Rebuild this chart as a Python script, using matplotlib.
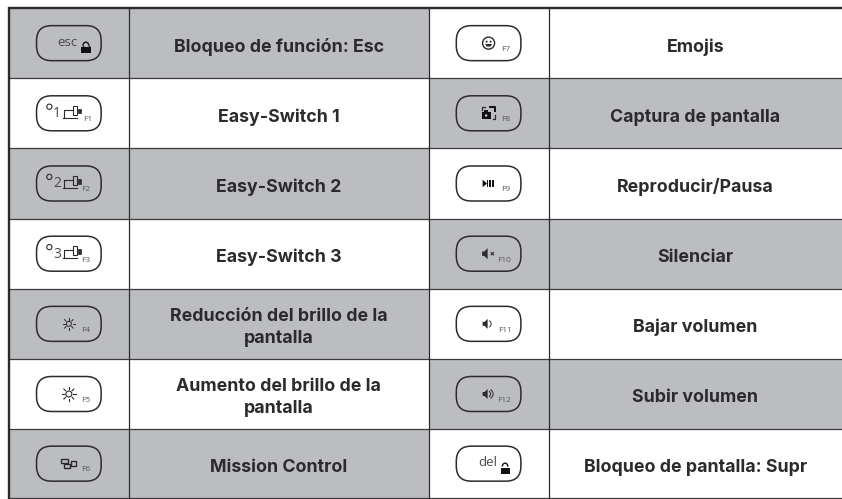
#!/usr/bin/env python
#### keyboard function key table, F-row shortcuts (es)

import numpy as np
import matplotlib
matplotlib.use('Agg')
import matplotlib.pyplot as plt
from matplotlib.patches import FancyBboxPatch, Rectangle, Circle, Polygon, Arc

#### table contents
left_labels = ['Bloqueo de función: Esc', 'Easy-Switch 1', 'Easy-Switch 2', 'Easy-Switch 3',
               'Reducción del brillo de la\npantalla', 'Aumento del brillo de la\npantalla',
               'Mission Control']
right_labels = ['Emojis', 'Captura de pantalla', 'Reproducir/Pausa', 'Silenciar',
                'Bajar volumen', 'Subir volumen', 'Bloqueo de pantalla: Supr']
left_fn = ['', 'F1', 'F2', 'F3', 'F4', 'F5', 'F6']
right_fn = ['F7', 'F8', 'F9', 'F10', 'F11', 'F12', '']
left_icons = ['esc', 'switch1', 'switch2', 'switch3', 'sun_small', 'sun_big', 'windows']
right_icons = ['emoji', 'camera', 'play', 'mute', 'voldown', 'volup', 'del']

row_edges = [8, 78.3, 148.3, 218.7, 288.7, 359, 429, 498.3]
col_edges = [8.7, 129, 428.5, 548.7, 842]

GREY = '#bcbdc0'
DARK = '#2b2a2c'
KEYTXT = '#4a4a4c'

fig = plt.figure(figsize=(8.42, 4.99), dpi=100)
ax = fig.add_axes([0, 0, 1, 1])
ax.set_xlim(0, 842)
ax.set_ylim(499, 0)
ax.axis('off')


def sun(cx, cy, r, r1, r2, lw):
    ax.add_patch(Circle((cx, cy), r, fc='none', ec=DARK, lw=lw))
    for a in np.arange(8) * np.pi / 4:
        ax.plot([cx + r1 * np.cos(a), cx + r2 * np.cos(a)],
                [cy + r1 * np.sin(a), cy + r2 * np.sin(a)], color=DARK, lw=lw)


def switch(cx, cy, num):
    ax.add_patch(Circle((cx - 19.5, cy - 6.6), 2.6, fc='none', ec=DARK, lw=0.8))
    ax.text(cx - 12, cy + 0.3, num, fontsize=10, family='Open Sans',
            color=KEYTXT, ha='center', va='center')
    ax.plot([cx - 6, cx + 8], [cy + 4.5, cy + 4.5], color=DARK, lw=0.8)
    ax.plot([cx - 4.5, cx - 4.5, cx + 3], [cy + 4.5, cy - 3.5, cy - 3.5], color=DARK, lw=0.8)
    ax.add_patch(Rectangle((cx + 4, cy - 7.5), 4, 9, fc='none', ec=DARK, lw=0.8))
    ax.add_patch(Rectangle((cx + 9, cy - 4.5), 3, 4.5, fc=DARK, ec=DARK, lw=0.5))


def speaker(cx, cy, s):
    ax.add_patch(Polygon([(cx, cy - 2 * s), (cx + 2 * s, cy - 2 * s), (cx + 5 * s, cy - 5 * s),
                          (cx + 5 * s, cy + 5 * s), (cx + 2 * s, cy + 2 * s), (cx, cy + 2 * s)],
                         fc=DARK, ec='none'))


def lock(cx, cy, w, h, opened):
    ax.add_patch(Rectangle((cx - w / 2, cy), w, h, fc='#111111', ec='none'))
    ax.add_patch(Arc((cx, cy - 1), w * 0.62, 7, theta1=180, theta2=360, ec='#111111', lw=1.0))
    if not opened:
        ax.plot([cx - w * 0.31, cx - w * 0.31], [cy - 1, cy], color='#111111', lw=1.0)
        ax.plot([cx + w * 0.31, cx + w * 0.31], [cy - 1, cy], color='#111111', lw=1.0)


def draw_icon(name, cx, cy):
    if name == 'esc':
        ax.text(cx - 1, cy - 0.5, 'esc', fontsize=9.5, family='Open Sans',
                color=KEYTXT, ha='center', va='center')
        lock(cx + 17, cy + 3.5, 9.5, 6.5, False)
    elif name.startswith('switch'):
        switch(cx, cy, name[-1])
    elif name == 'sun_small':
        sun(cx, cy, 2.5, 4, 6, 0.7)
    elif name == 'sun_big':
        sun(cx, cy, 3, 4.6, 7, 0.8)
    elif name == 'windows':
        ax.add_patch(Rectangle((cx - 8, cy - 4.5), 7.2, 4, fc='none', ec=DARK, lw=1.0))
        ax.add_patch(Rectangle((cx - 5, cy + 0.8), 6, 4, fc='none', ec=DARK, lw=1.0))
        ax.add_patch(Rectangle((cx + 1.8, cy - 3), 5.2, 5.6, fc='none', ec=DARK, lw=1.0))
    elif name == 'emoji':
        ax.add_patch(Circle((cx, cy), 6, fc='none', ec=DARK, lw=1.0))
        ax.add_patch(Circle((cx - 2, cy - 1.5), 1, fc=DARK, ec='none'))
        ax.add_patch(Circle((cx + 2, cy - 1.5), 1, fc=DARK, ec='none'))
        ax.add_patch(Polygon([(cx - 3.5, cy + 0.8), (cx + 3.5, cy + 0.8), (cx + 2, cy + 3.4),
                              (cx - 2, cy + 3.4)], fc=DARK, ec='none'))
    elif name == 'camera':
        ax.add_patch(Rectangle((cx - 7, cy - 1), 9, 6.5, fc='#111111', ec='none'))
        ax.add_patch(Rectangle((cx - 4.5, cy - 3), 4, 2.5, fc='#111111', ec='none'))
        ax.add_patch(Circle((cx - 2.5, cy + 2.2), 1.3, fc=GREY, ec='none'))
        ax.plot([cx - 7, cx - 7, cx - 4], [cy - 3, cy - 6, cy - 6], color=DARK, lw=0.9)
        ax.plot([cx + 1, cx + 6.5, cx + 6.5], [cy - 6, cy - 6, cy - 2], color='#111111', lw=1.4)
        ax.plot([cx + 6.5, cx + 6.5, cx + 4], [cy + 1.5, cy + 5.5, cy + 5.5], color=DARK, lw=0.9)
    elif name == 'play':
        ax.add_patch(Polygon([(cx - 6, cy - 3.7), (cx - 1.5, cy), (cx - 6, cy + 3.7)], fc='#111111', ec='none'))
        ax.add_patch(Rectangle((cx - 1.5, cy - 3.7), 1, 7.4, fc='#111111', ec='none'))
        ax.add_patch(Rectangle((cx + 0.6, cy - 3.7), 1.7, 7.4, fc='#111111', ec='none'))
        ax.add_patch(Rectangle((cx + 3.4, cy - 3.7), 1.7, 7.4, fc='#111111', ec='none'))
    elif name == 'mute':
        speaker(cx - 6.5, cy, 1.1)
        ax.plot([cx + 2.5, cx + 5], [cy - 1.2, cy + 1.2], color=DARK, lw=0.8)
        ax.plot([cx + 2.5, cx + 5], [cy + 1.2, cy - 1.2], color=DARK, lw=0.8)
    elif name == 'voldown':
        speaker(cx - 6, cy, 1.0)
        ax.add_patch(Arc((cx - 2, cy), 9, 8, theta1=-50, theta2=50, ec=DARK, lw=0.7))
    elif name == 'volup':
        speaker(cx - 6, cy, 1.0)
        ax.add_patch(Arc((cx - 2, cy), 8, 7, theta1=-50, theta2=50, ec=DARK, lw=0.7))
        ax.add_patch(Arc((cx - 2, cy), 13, 11, theta1=-50, theta2=50, ec=DARK, lw=0.7))
    elif name == 'del':
        ax.text(cx - 1, cy - 1.5, 'del', fontsize=9.5, family='Open Sans',
                color=KEYTXT, ha='center', va='center')
        lock(cx + 16.5, cy + 4, 9, 6.5, True)


def draw_column(x0, x1, x2, labels, fn, icons, shade_start):
    for i in range(len(labels)):
        y0, y1 = row_edges[i], row_edges[i + 1]
        cy = (y0 + y1) / 2
        if (i + shade_start) % 2 == 0:
            ax.add_patch(Rectangle((x0, y0), x2 - x0, y1 - y0, fc=GREY, ec='none', zorder=0))
        cx = (x0 + x1) / 2
        ax.add_patch(FancyBboxPatch((cx - 32.3 + 15, cy - 17.5 + 15), 64.6 - 30, 35 - 30,
                                    boxstyle='round,pad=15,rounding_size=15',
                                    fc='none', ec=DARK, lw=1.1))
        draw_icon(icons[i], cx, cy)
        if fn[i]:
            dx = {'F1': 19, 'F10': 15, 'F11': 16, 'F12': 15}.get(fn[i], 17)
            ax.text(cx + dx, cy + 6.3, fn[i], fontsize=6, family='Open Sans',
                    color='#58585a', ha='center', va='center')
        ax.text((x1 + x2) / 2, cy + 3.7, labels[i], fontsize=12.8, family='Inter', fontweight='bold',
                color=DARK, ha='center', va='center', linespacing=1.38)


draw_column(col_edges[0], col_edges[1], col_edges[2], left_labels, left_fn, left_icons, 0)
draw_column(col_edges[2], col_edges[3], col_edges[4], right_labels, right_fn, right_icons, 1)

#### grid lines
for y in row_edges[1:]:
    ax.plot([col_edges[0], 842], [y, y], color='#3a3a3c', lw=0.9, zorder=3, solid_capstyle='butt')
ax.plot([7.5, 842], [8, 8], color=DARK, lw=1.7, zorder=3, solid_capstyle='butt')
ax.plot([8.7, 8.7], [7, 498.8], color=DARK, lw=1.7, zorder=3, solid_capstyle='butt')
for x in col_edges[1:4]:
    ax.plot([x, x], [8, 498.3], color=DARK, lw=0.9, zorder=3, solid_capstyle='butt')

fig.savefig('out.png', dpi=100)
